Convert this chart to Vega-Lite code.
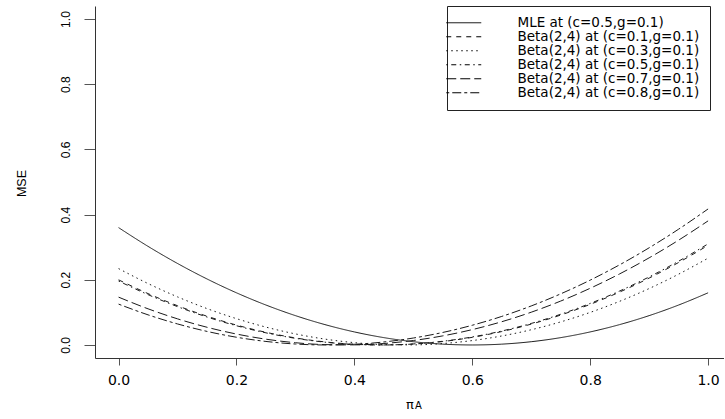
{
  "$schema": "https://vega.github.io/schema/vega-lite/v6.json",
  "width": 629,
  "height": 352,
  "autosize": "none",
  "padding": {"left": 95, "top": 6, "right": 0, "bottom": 61},
  "background": "white",
  "config": {"view": {"stroke": null}},
  "title": {"text": "A", "orient": "bottom", "anchor": "middle", "dx": 9, "offset": -10, "font": "DejaVu Sans", "fontSize": 10, "fontWeight": "normal", "color": "black"},
  "data": {"values": [
    {"s":"MLE at (c=0.5,g=0.1)","x":0,"y":0.36},{"s":"MLE at (c=0.5,g=0.1)","x":0.05,"y":0.3025},{"s":"MLE at (c=0.5,g=0.1)","x":0.1,"y":0.25},{"s":"MLE at (c=0.5,g=0.1)","x":0.15,"y":0.2025},{"s":"MLE at (c=0.5,g=0.1)","x":0.2,"y":0.16},{"s":"MLE at (c=0.5,g=0.1)","x":0.25,"y":0.1225},{"s":"MLE at (c=0.5,g=0.1)","x":0.3,"y":0.09},{"s":"MLE at (c=0.5,g=0.1)","x":0.35,"y":0.0625},{"s":"MLE at (c=0.5,g=0.1)","x":0.4,"y":0.04},{"s":"MLE at (c=0.5,g=0.1)","x":0.45,"y":0.0225},{"s":"MLE at (c=0.5,g=0.1)","x":0.5,"y":0.01},{"s":"MLE at (c=0.5,g=0.1)","x":0.55,"y":0.0025},{"s":"MLE at (c=0.5,g=0.1)","x":0.6,"y":0},{"s":"MLE at (c=0.5,g=0.1)","x":0.65,"y":0.0025},{"s":"MLE at (c=0.5,g=0.1)","x":0.7,"y":0.01},{"s":"MLE at (c=0.5,g=0.1)","x":0.75,"y":0.0225},{"s":"MLE at (c=0.5,g=0.1)","x":0.8,"y":0.04},{"s":"MLE at (c=0.5,g=0.1)","x":0.85,"y":0.0625},{"s":"MLE at (c=0.5,g=0.1)","x":0.9,"y":0.09},{"s":"MLE at (c=0.5,g=0.1)","x":0.95,"y":0.1225},{"s":"MLE at (c=0.5,g=0.1)","x":1,"y":0.16},
    {"s":"Beta(2,4) at (c=0.1,g=0.1)","x":0,"y":0.1998},{"s":"Beta(2,4) at (c=0.1,g=0.1)","x":0.05,"y":0.1576},{"s":"Beta(2,4) at (c=0.1,g=0.1)","x":0.1,"y":0.1204},{"s":"Beta(2,4) at (c=0.1,g=0.1)","x":0.15,"y":0.0882},{"s":"Beta(2,4) at (c=0.1,g=0.1)","x":0.2,"y":0.061},{"s":"Beta(2,4) at (c=0.1,g=0.1)","x":0.25,"y":0.0388},{"s":"Beta(2,4) at (c=0.1,g=0.1)","x":0.3,"y":0.0216},{"s":"Beta(2,4) at (c=0.1,g=0.1)","x":0.35,"y":0.0094},{"s":"Beta(2,4) at (c=0.1,g=0.1)","x":0.4,"y":0.0022},{"s":"Beta(2,4) at (c=0.1,g=0.1)","x":0.45,"y":0.0},{"s":"Beta(2,4) at (c=0.1,g=0.1)","x":0.5,"y":0.0028},{"s":"Beta(2,4) at (c=0.1,g=0.1)","x":0.55,"y":0.0106},{"s":"Beta(2,4) at (c=0.1,g=0.1)","x":0.6,"y":0.0234},{"s":"Beta(2,4) at (c=0.1,g=0.1)","x":0.65,"y":0.0412},{"s":"Beta(2,4) at (c=0.1,g=0.1)","x":0.7,"y":0.064},{"s":"Beta(2,4) at (c=0.1,g=0.1)","x":0.75,"y":0.0918},{"s":"Beta(2,4) at (c=0.1,g=0.1)","x":0.8,"y":0.1246},{"s":"Beta(2,4) at (c=0.1,g=0.1)","x":0.85,"y":0.1624},{"s":"Beta(2,4) at (c=0.1,g=0.1)","x":0.9,"y":0.2052},{"s":"Beta(2,4) at (c=0.1,g=0.1)","x":0.95,"y":0.253},{"s":"Beta(2,4) at (c=0.1,g=0.1)","x":1,"y":0.3058},
    {"s":"Beta(2,4) at (c=0.3,g=0.1)","x":0,"y":0.2343},{"s":"Beta(2,4) at (c=0.3,g=0.1)","x":0.05,"y":0.1884},{"s":"Beta(2,4) at (c=0.3,g=0.1)","x":0.1,"y":0.1475},{"s":"Beta(2,4) at (c=0.3,g=0.1)","x":0.15,"y":0.1116},{"s":"Beta(2,4) at (c=0.3,g=0.1)","x":0.2,"y":0.0807},{"s":"Beta(2,4) at (c=0.3,g=0.1)","x":0.25,"y":0.0548},{"s":"Beta(2,4) at (c=0.3,g=0.1)","x":0.3,"y":0.0339},{"s":"Beta(2,4) at (c=0.3,g=0.1)","x":0.35,"y":0.018},{"s":"Beta(2,4) at (c=0.3,g=0.1)","x":0.4,"y":0.0071},{"s":"Beta(2,4) at (c=0.3,g=0.1)","x":0.45,"y":0.0012},{"s":"Beta(2,4) at (c=0.3,g=0.1)","x":0.5,"y":0.0003},{"s":"Beta(2,4) at (c=0.3,g=0.1)","x":0.55,"y":0.0044},{"s":"Beta(2,4) at (c=0.3,g=0.1)","x":0.6,"y":0.0135},{"s":"Beta(2,4) at (c=0.3,g=0.1)","x":0.65,"y":0.0276},{"s":"Beta(2,4) at (c=0.3,g=0.1)","x":0.7,"y":0.0467},{"s":"Beta(2,4) at (c=0.3,g=0.1)","x":0.75,"y":0.0708},{"s":"Beta(2,4) at (c=0.3,g=0.1)","x":0.8,"y":0.0999},{"s":"Beta(2,4) at (c=0.3,g=0.1)","x":0.85,"y":0.134},{"s":"Beta(2,4) at (c=0.3,g=0.1)","x":0.9,"y":0.1731},{"s":"Beta(2,4) at (c=0.3,g=0.1)","x":0.95,"y":0.2172},{"s":"Beta(2,4) at (c=0.3,g=0.1)","x":1,"y":0.2663},
    {"s":"Beta(2,4) at (c=0.5,g=0.1)","x":0,"y":0.1962},{"s":"Beta(2,4) at (c=0.5,g=0.1)","x":0.05,"y":0.1544},{"s":"Beta(2,4) at (c=0.5,g=0.1)","x":0.1,"y":0.1176},{"s":"Beta(2,4) at (c=0.5,g=0.1)","x":0.15,"y":0.0858},{"s":"Beta(2,4) at (c=0.5,g=0.1)","x":0.2,"y":0.059},{"s":"Beta(2,4) at (c=0.5,g=0.1)","x":0.25,"y":0.0372},{"s":"Beta(2,4) at (c=0.5,g=0.1)","x":0.3,"y":0.0204},{"s":"Beta(2,4) at (c=0.5,g=0.1)","x":0.35,"y":0.0086},{"s":"Beta(2,4) at (c=0.5,g=0.1)","x":0.4,"y":0.0018},{"s":"Beta(2,4) at (c=0.5,g=0.1)","x":0.45,"y":0.0},{"s":"Beta(2,4) at (c=0.5,g=0.1)","x":0.5,"y":0.0032},{"s":"Beta(2,4) at (c=0.5,g=0.1)","x":0.55,"y":0.0114},{"s":"Beta(2,4) at (c=0.5,g=0.1)","x":0.6,"y":0.0246},{"s":"Beta(2,4) at (c=0.5,g=0.1)","x":0.65,"y":0.0428},{"s":"Beta(2,4) at (c=0.5,g=0.1)","x":0.7,"y":0.066},{"s":"Beta(2,4) at (c=0.5,g=0.1)","x":0.75,"y":0.0942},{"s":"Beta(2,4) at (c=0.5,g=0.1)","x":0.8,"y":0.1274},{"s":"Beta(2,4) at (c=0.5,g=0.1)","x":0.85,"y":0.1656},{"s":"Beta(2,4) at (c=0.5,g=0.1)","x":0.9,"y":0.2088},{"s":"Beta(2,4) at (c=0.5,g=0.1)","x":0.95,"y":0.257},{"s":"Beta(2,4) at (c=0.5,g=0.1)","x":1,"y":0.3102},
    {"s":"Beta(2,4) at (c=0.7,g=0.1)","x":0,"y":0.1467},{"s":"Beta(2,4) at (c=0.7,g=0.1)","x":0.05,"y":0.1109},{"s":"Beta(2,4) at (c=0.7,g=0.1)","x":0.1,"y":0.0801},{"s":"Beta(2,4) at (c=0.7,g=0.1)","x":0.15,"y":0.0543},{"s":"Beta(2,4) at (c=0.7,g=0.1)","x":0.2,"y":0.0335},{"s":"Beta(2,4) at (c=0.7,g=0.1)","x":0.25,"y":0.0177},{"s":"Beta(2,4) at (c=0.7,g=0.1)","x":0.3,"y":0.0069},{"s":"Beta(2,4) at (c=0.7,g=0.1)","x":0.35,"y":0.0011},{"s":"Beta(2,4) at (c=0.7,g=0.1)","x":0.4,"y":0.0003},{"s":"Beta(2,4) at (c=0.7,g=0.1)","x":0.45,"y":0.0045},{"s":"Beta(2,4) at (c=0.7,g=0.1)","x":0.5,"y":0.0137},{"s":"Beta(2,4) at (c=0.7,g=0.1)","x":0.55,"y":0.0279},{"s":"Beta(2,4) at (c=0.7,g=0.1)","x":0.6,"y":0.0471},{"s":"Beta(2,4) at (c=0.7,g=0.1)","x":0.65,"y":0.0713},{"s":"Beta(2,4) at (c=0.7,g=0.1)","x":0.7,"y":0.1005},{"s":"Beta(2,4) at (c=0.7,g=0.1)","x":0.75,"y":0.1347},{"s":"Beta(2,4) at (c=0.7,g=0.1)","x":0.8,"y":0.1739},{"s":"Beta(2,4) at (c=0.7,g=0.1)","x":0.85,"y":0.2181},{"s":"Beta(2,4) at (c=0.7,g=0.1)","x":0.9,"y":0.2673},{"s":"Beta(2,4) at (c=0.7,g=0.1)","x":0.95,"y":0.3215},{"s":"Beta(2,4) at (c=0.7,g=0.1)","x":1,"y":0.3807},
    {"s":"Beta(2,4) at (c=0.8,g=0.1)","x":0,"y":0.1253},{"s":"Beta(2,4) at (c=0.8,g=0.1)","x":0.05,"y":0.0924},{"s":"Beta(2,4) at (c=0.8,g=0.1)","x":0.1,"y":0.0645},{"s":"Beta(2,4) at (c=0.8,g=0.1)","x":0.15,"y":0.0416},{"s":"Beta(2,4) at (c=0.8,g=0.1)","x":0.2,"y":0.0237},{"s":"Beta(2,4) at (c=0.8,g=0.1)","x":0.25,"y":0.0108},{"s":"Beta(2,4) at (c=0.8,g=0.1)","x":0.3,"y":0.0029},{"s":"Beta(2,4) at (c=0.8,g=0.1)","x":0.35,"y":0.0},{"s":"Beta(2,4) at (c=0.8,g=0.1)","x":0.4,"y":0.0021},{"s":"Beta(2,4) at (c=0.8,g=0.1)","x":0.45,"y":0.0092},{"s":"Beta(2,4) at (c=0.8,g=0.1)","x":0.5,"y":0.0213},{"s":"Beta(2,4) at (c=0.8,g=0.1)","x":0.55,"y":0.0384},{"s":"Beta(2,4) at (c=0.8,g=0.1)","x":0.6,"y":0.0605},{"s":"Beta(2,4) at (c=0.8,g=0.1)","x":0.65,"y":0.0876},{"s":"Beta(2,4) at (c=0.8,g=0.1)","x":0.7,"y":0.1197},{"s":"Beta(2,4) at (c=0.8,g=0.1)","x":0.75,"y":0.1568},{"s":"Beta(2,4) at (c=0.8,g=0.1)","x":0.8,"y":0.1989},{"s":"Beta(2,4) at (c=0.8,g=0.1)","x":0.85,"y":0.246},{"s":"Beta(2,4) at (c=0.8,g=0.1)","x":0.9,"y":0.2981},{"s":"Beta(2,4) at (c=0.8,g=0.1)","x":0.95,"y":0.3552},{"s":"Beta(2,4) at (c=0.8,g=0.1)","x":1,"y":0.4173}
  ]},
  "mark": {"type": "line", "interpolate": "monotone", "strokeWidth": 1, "color": "#1a1a1a"},
  "encoding": {
    "x": {
      "field": "x", "type": "quantitative",
      "scale": {"domain": [-0.04, 1.027], "nice": false, "zero": false},
      "axis": {
        "title": "π", "values": [0, 0.2, 0.4, 0.6, 0.8, 1], "format": ".1f", "grid": false,
        "tickSize": 7, "labelPadding": 8, "labelFlush": false, "labelOverlap": false,
        "labelFont": "DejaVu Sans", "labelFontSize": 14, "labelColor": "black",
        "domainColor": "#333", "tickColor": "#555",
        "titleFont": "DejaVu Sans", "titleFontSize": 13, "titleFontWeight": "normal", "titleColor": "black",
        "titleX": 314.5, "titleY": 50, "titleAlign": "center", "titleBaseline": "alphabetic"
      }
    },
    "y": {
      "field": "y", "type": "quantitative",
      "scale": {"domain": [-0.04, 1.04], "nice": false, "zero": false},
      "axis": {
        "title": "MSE", "values": [0, 0.2, 0.4, 0.6, 0.8, 1], "format": ".1f", "grid": false,
        "tickSize": 11, "labelAngle": 270, "labelAlign": "center", "labelBaseline": "alphabetic", "labelPadding": 15,
        "labelFlush": false, "labelOverlap": false,
        "labelFont": "Liberation Sans", "labelFontSize": 12, "labelColor": "black",
        "domainColor": "#333", "tickColor": "#555",
        "titleFont": "Liberation Sans", "titleFontSize": 12.5, "titleFontWeight": "normal", "titleColor": "black",
        "titleAngle": 270, "titleX": -70, "titleY": 177, "titleAlign": "center", "titleBaseline": "alphabetic"
      }
    },
    "strokeDash": {
      "field": "s", "type": "nominal",
      "scale": {
        "domain": ["MLE at (c=0.5,g=0.1)", "Beta(2,4) at (c=0.1,g=0.1)", "Beta(2,4) at (c=0.3,g=0.1)", "Beta(2,4) at (c=0.5,g=0.1)", "Beta(2,4) at (c=0.7,g=0.1)", "Beta(2,4) at (c=0.8,g=0.1)"],
        "range": [[1, 0], [5, 5], [1.5, 3.5], [1.5, 3.5, 5, 3.5], [10, 4], [3, 3, 9, 3]]
      },
      "legend": {
        "orient": "none", "legendX": 352, "legendY": 0, "title": null,
        "symbolType": "M-4,0H4", "symbolSize": 76.5, "symbolStrokeWidth": 1, "symbolStrokeColor": "black", "symbolFillColor": "transparent",
        "labelFont": "DejaVu Sans", "labelFontSize": 13.5, "labelColor": "black", "labelOffset": 47, "labelLimit": 400,
        "rowPadding": -2, "padding": 10, "strokeColor": "#222", "fillColor": "white"
      }
    }
  }
}
